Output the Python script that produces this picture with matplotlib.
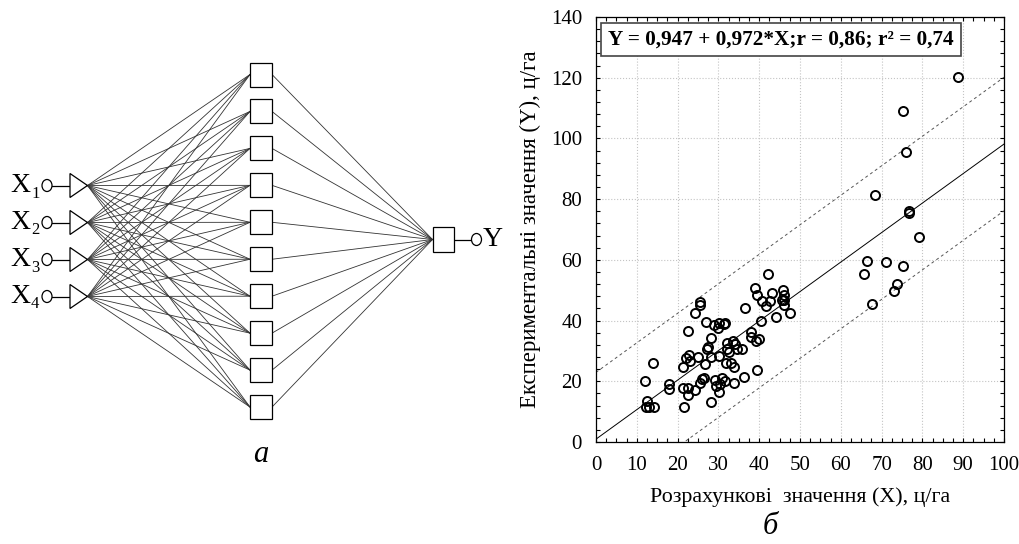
import matplotlib
matplotlib.use("Agg")
import numpy as np
import matplotlib.pyplot as plt
from matplotlib.patches import Rectangle, Ellipse, Polygon
from matplotlib.ticker import MultipleLocator

plt.rcParams["font.family"] = ["Liberation Serif", "DejaVu Serif"]

# --- data ---
calc_x = [12.1, 12.5, 12.3, 12.9, 14.1, 13.9, 17.9, 17.9, 21.3, 21.3, 21.6, 22.1,
          22.5, 22.5, 22.5, 22.9, 23.1, 24.2, 24.3, 25.0, 25.6, 25.6, 25.5, 26.1,
          26.4, 26.6, 26.9, 27.3, 27.5, 28.1, 28.2, 28.3, 28.8, 29.1, 29.3, 30.0,
          30.1, 30.1, 30.2, 30.4, 30.8, 31.3, 31.5, 31.5, 31.8, 32.0, 32.0, 32.5,
          33.0, 33.6, 33.8, 33.8, 34.1, 34.5, 35.9, 36.3, 36.4, 37.9, 38.1, 39.0,
          39.2, 39.5, 39.4, 39.9, 40.4, 40.7, 41.6, 42.2, 42.6, 43.2, 44.1, 45.8,
          46.0, 45.5, 46.2, 46.2, 47.5, 65.7, 66.5, 67.6, 71.0, 75.2, 73.7, 73.1,
          88.7, 75.2, 75.9, 68.4, 76.8, 76.6, 79.1]
exp_y = [20.2, 13.5, 11.6, 11.6, 11.5, 25.9, 19.2, 17.6, 24.6, 17.9, 11.6, 27.6,
         36.6, 17.9, 15.4, 28.5, 26.8, 42.6, 17.1, 27.9, 46.2, 45.1, 19.5, 20.9,
         21.0, 25.7, 39.4, 30.7, 31.2, 34.1, 13.2, 28.1, 38.5, 20.4, 18.6, 37.7,
         39.1, 28.3, 16.5, 19.0, 21.1, 38.9, 39.1, 20.1, 26.0, 32.7, 30.7, 29.7,
         26.0, 33.4, 24.8, 19.4, 32.4, 30.5, 30.5, 21.3, 44.2, 36.1, 34.5, 50.6,
         33.3, 23.7, 48.3, 34.0, 40.0, 46.4, 44.7, 55.5, 46.4, 49.0, 41.1, 50.2,
         48.5, 46.8, 46.8, 45.0, 42.6, 55.3, 59.6, 45.4, 59.3, 58.0, 51.9, 49.7,
         120.4, 109.2, 95.6, 81.3, 76.2, 75.6, 67.5]
intercept = 0.947
slope = 0.972
band = 22.0
eq_text = "Y = 0,947 + 0,972*X;r = 0,86; r\u00b2 = 0,74"

n_inputs = 4
n_hidden = 10
input_labels = ["1", "2", "3", "4"]

fig = plt.figure(figsize=(10.2, 5.44), dpi=100)

# --- left panel: network diagram (pixel coordinates) ---
net = fig.add_axes([0, 0, 1, 1])
net.set_xlim(0, 1020)
net.set_ylim(544, 0)
net.axis("off")

in_y = [185.5 + 37.0 * i for i in range(n_inputs)]
hid_y = [74.5 + 36.95 * j for j in range(n_hidden)]
out_x, out_y = 443.5, 239.5
tri_base, tri_apex = 70, 87.5
sq_l, sq_r = 250, 272
lc = "#333333"

for yi in in_y:
    for yj in hid_y:
        net.plot([tri_apex, sq_l], [yi, yj], color=lc, lw=0.6, zorder=1)
for yj in hid_y:
    net.plot([sq_r, out_x - 11], [yj, out_y], color=lc, lw=0.6, zorder=1)

for k, yi in enumerate(in_y):
    net.add_patch(Ellipse((47, yi), 10, 12, fc="white", ec="black", lw=0.9, zorder=3))
    net.plot([52, tri_base], [yi, yi], color="black", lw=0.9)
    net.add_patch(Polygon([[tri_base, yi - 12], [tri_base, yi + 12], [tri_apex, yi]],
                          closed=True, fc="white", ec="black", lw=0.9, zorder=3))
    net.text(10, yi, "X", fontsize=20, va="center", ha="left")
    net.text(31, yi + 8, input_labels[k], fontsize=12, va="center", ha="left")

for yj in hid_y:
    net.add_patch(Rectangle((sq_l, yj - 12), sq_r - sq_l, 24, fc="white", ec="black",
                            lw=0.9, zorder=3))

net.add_patch(Rectangle((out_x - 10.5, out_y - 12.5), 21, 25, fc="white", ec="black",
                        lw=0.9, zorder=3))
net.plot([out_x + 10.5, 471.5], [out_y, out_y], color="black", lw=0.9)
net.add_patch(Ellipse((476.5, out_y), 10, 12, fc="white", ec="black", lw=0.9, zorder=3))
net.text(483, out_y, "Y", fontsize=20, va="center", ha="left")

net.text(261, 455, "а", fontsize=22, style="italic", ha="center", va="center")
net.text(770, 526, "б", fontsize=22, style="italic", ha="center", va="center")

# --- right panel: scatter ---
ax = fig.add_axes([596 / 1020, (544 - 442) / 544, 408 / 1020, 425 / 544])
ax.set_xlim(0, 100)
ax.set_ylim(0, 140)

xx = np.array([0, 100])
ax.plot(xx, intercept + slope * xx, color="black", lw=0.7, zorder=2)
ax.plot(xx, intercept + slope * xx + band, color="#555555", lw=0.7,
        linestyle=(0, (3, 3)), zorder=2)
ax.plot(xx, intercept + slope * xx - band, color="#555555", lw=0.7,
        linestyle=(0, (3, 3)), zorder=2)

ax.plot(calc_x, exp_y, "o", ms=6.5, mfc="none", mec="black", mew=1.4, zorder=3)

ax.xaxis.set_major_locator(MultipleLocator(10))
ax.xaxis.set_minor_locator(MultipleLocator(2.5))
ax.yaxis.set_major_locator(MultipleLocator(20))
ax.yaxis.set_minor_locator(MultipleLocator(4))
ax.tick_params(which="both", direction="in", top=True, right=True, length=3,
               width=0.8, labelsize=15, pad=10)
ax.grid(True, which="major", color="#c4c4c4", linestyle=":", lw=0.8)
ax.set_axisbelow(True)
for s in ax.spines.values():
    s.set_linewidth(0.9)

ax.set_xlabel("Розрахункові  значення (X), ц/га", fontsize=15.8, labelpad=9)
ax.set_ylabel("Експериментальні значення (Y), ц/га", fontsize=16.5, labelpad=7)

ax.text(0.03, 0.947, eq_text, transform=ax.transAxes, fontsize=15.3,
        fontweight="bold", va="center", ha="left",
        bbox=dict(boxstyle="square,pad=0.32", fc="white", ec="#444444", lw=1.2))

fig.savefig("out.png", dpi=100)
